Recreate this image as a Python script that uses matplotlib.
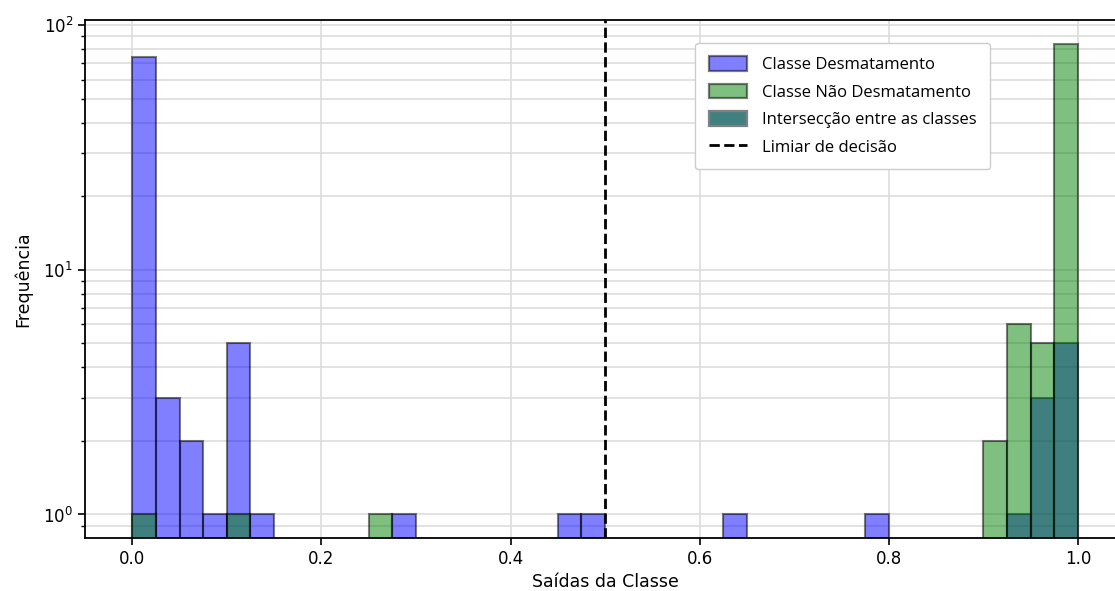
import numpy as np
import matplotlib.pyplot as plt
from matplotlib.patches import Patch
from matplotlib.lines import Line2D
from matplotlib.font_manager import FontProperties

# histograma já agrupado (40 classes de 0.025 entre 0 e 1)
bin_edges = np.linspace(0, 1, 41)
bin_centers = (bin_edges[:-1] + bin_edges[1:]) / 2

# contagens por classe (índice do bin -> frequência)
desmat_bins = [0, 1, 2, 3, 4, 5, 11, 18, 19, 25, 31, 37, 38, 39]
desmat_counts = [74, 3, 2, 1, 5, 1, 1, 1, 1, 1, 1, 1, 3, 5]

nao_desmat_bins = [0, 4, 10, 36, 37, 38, 39]
nao_desmat_counts = [1, 1, 1, 2, 6, 5, 84]

threshold = 0.5

w_desmat = np.zeros(40)
w_desmat[desmat_bins] = desmat_counts
w_nao = np.zeros(40)
w_nao[nao_desmat_bins] = nao_desmat_counts

fig = plt.figure(figsize=(11.15, 5.91), dpi=100)
ax = fig.add_axes([0.0762, 0.0897, 0.933, 0.876])

ax.hist(bin_centers, bins=bin_edges, weights=w_desmat, color='blue',
        alpha=0.5, edgecolor='black', linewidth=1.5, log=True)
ax.hist(bin_centers, bins=bin_edges, weights=w_nao, color='green',
        alpha=0.5, edgecolor='black', linewidth=1.5, log=True)
ax.axvline(threshold, color='black', linestyle='--', linewidth=2)

ax.grid(True, which='major', color='#dddddd', linewidth=1.2)
ax.grid(True, which='minor', axis='y', color='#dddddd', linewidth=1.2)
ax.set_axisbelow(True)

ax.tick_params(labelsize=12, width=1.2, length=5)
ax.tick_params(which='minor', width=1.0, length=3)
for s in ax.spines.values():
    s.set_linewidth(1.3)

ax.set_xlabel('Saídas da Classe', fontsize=12.5, labelpad=4)
ax.set_ylabel('Frequência', fontsize=12.5, labelpad=8)

handles = [
    Patch(facecolor='blue', alpha=0.5, edgecolor='black', linewidth=1.6, label='Classe Desmatamento'),
    Patch(facecolor='green', alpha=0.5, edgecolor='black', linewidth=1.6, label='Classe Não Desmatamento'),
    Patch(facecolor='#408080', edgecolor='#808080', linewidth=1.6, label='Intersecção entre as classes'),
    Line2D([0], [0], color='black', linestyle='--', linewidth=2, label='Limiar de decisão'),
]
leg_font = FontProperties(family=['Open Sans', 'DejaVu Sans'], size=12)
ax.legend(handles=handles, loc='upper left', bbox_to_anchor=(0.5787, 0.9727),
          prop=leg_font, framealpha=1, edgecolor='#cccccc', borderpad=0.8,
          labelspacing=0.62, handlelength=2.3, handleheight=1.0, handletextpad=0.9)

plt.savefig('out.png', dpi=100)
